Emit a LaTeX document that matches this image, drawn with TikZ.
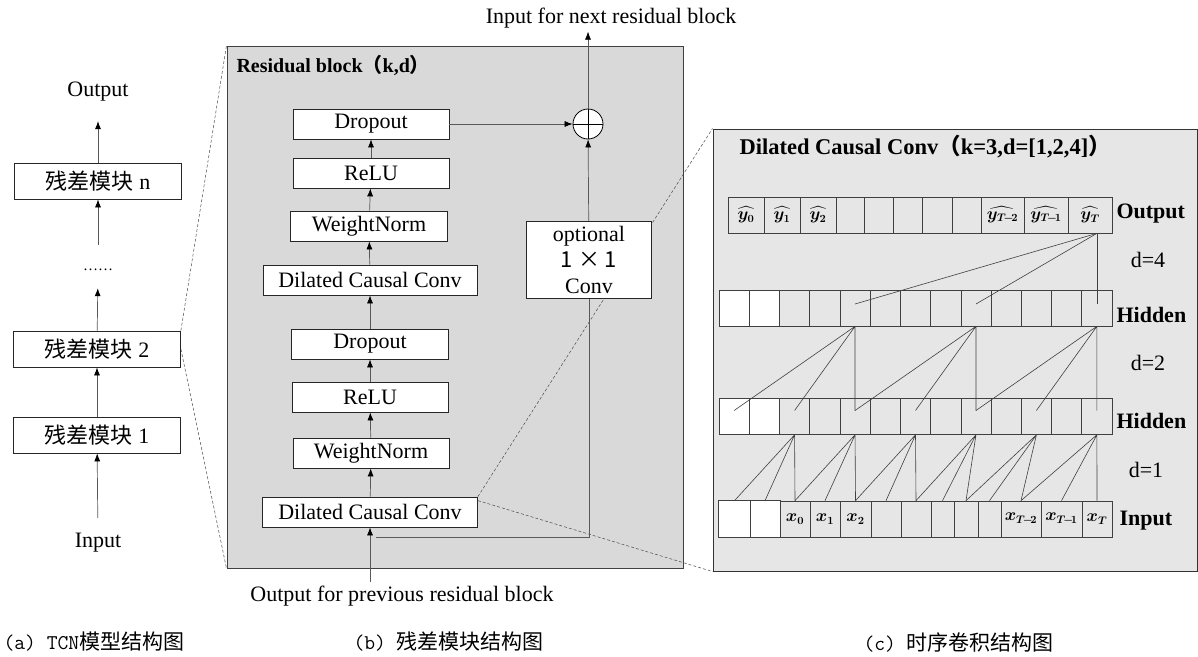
\documentclass[tikz,border=0pt]{standalone}
\usepackage{amsmath,amssymb,bm}
\usepackage{fontspec}
\setmainfont{Liberation Serif}
\newfontfamily\cjk{Noto Sans CJK SC}
\usepackage{xcolor}
\usetikzlibrary{arrows.meta,positioning,calc}

\definecolor{blockgray}{RGB}{217,217,217}
\definecolor{panelgray}{RGB}{231,230,230}
\newcommand{\txtsz}{\fontsize{22}{26}\selectfont}
\newcommand{\restitsz}{\fontsize{20}{23}\selectfont}
\newcommand{\pantitsz}{\fontsize{22.5}{26}\selectfont}
\newcommand{\cellsz}{\fontsize{16}{18}\selectfont\boldmath}
\newcommand{\capsz}{\fontsize{21}{24}\selectfont}
\newcommand{\tm}[1]{T\!-\!#1}

\begin{document}
\begin{tikzpicture}[
        x=1pt, y=-1pt,
        box/.style={rectangle, draw=black!85, fill=white, line width=0.8pt, inner sep=0pt, minimum height=30pt, font=\txtsz},
        stackbox/.style={box, minimum width=167pt, minimum height=36pt},
        plain/.style={font=\txtsz},
        arrow/.style={-{Latex[length=8pt,width=6pt,black]}, draw=black!65, line width=0.7pt},
        conn/.style={draw=black!65, line width=0.7pt},
        zoomline/.style={draw=black!70, line width=0.5pt, dash pattern=on 3pt off 2pt},
        cell/.style={rectangle, draw=black!75, line width=0.7pt, fill=panelgray, minimum height=36pt, inner sep=0pt, font=\cellsz},
        tap/.style={draw=black!75, line width=0.6pt},
        rowlabel/.style={anchor=west, font=\bfseries\txtsz},
        dlabel/.style={font=\txtsz}
    ]
    \useasboundingbox (0,0) rectangle (1198,656);

    % (a) TCN stack
    \node[plain] (out) at (98,92) {Output};
    \node[stackbox] (bn) at (98,181) {{\cjk 残差模块} n};
    \node[minimum height=36pt, font=\fontsize{15}{16}\selectfont] (dots) at (98,270) {……};
    \node[stackbox] (b2) at (97,349) {{\cjk 残差模块} 2};
    \node[stackbox] (b1) at (97,435) {{\cjk 残差模块} 1};
    \node[plain] (in) at (98,543) {Input};

    \draw[arrow, shorten <=12pt] (in) -- (b1);
    \draw[arrow] (b1) -- (b2);
    \draw[arrow] (b2) -- (dots);
    \draw[arrow, shorten <=7pt] (dots) -- (bn);
    \draw[arrow, shorten >=16pt] (bn) -- (out);

    % (c) dilated causal conv panel
    \node[draw=black!80, fill=panelgray, line width=1pt, minimum width=484pt, minimum height=442pt, inner sep=0pt] (panel) at (955,350) {};

    % (b) residual block
    \node[draw=black!75, fill=blockgray, line width=1pt, minimum width=456pt, minimum height=522pt, inner sep=0pt] (resblk) at (455,307) {};
    \node[anchor=west, font=\bfseries\restitsz] (restitle) at (233,65) {Residual block{\cjk （}k,d{\cjk ）}};

    \node[box, minimum width=215pt] (dcc1) at (370,512) {Dilated Causal Conv};

    % zoom lines
    \draw[zoomline] (b2.north east) -- (resblk.north west);
    \draw[zoomline] (b2.east) -- (resblk.south west);
    \draw[zoomline] (dcc1.north east) -- (panel.north west);
    \draw[zoomline] ([yshift=-4pt]dcc1.north east) -- (panel.south west);

    \node[box, minimum width=156pt] (wn1) at (371,453) {WeightNorm};
    \node[box, minimum width=156pt] (relu1) at (370,397) {ReLU};
    \node[box, minimum width=157pt] (drop1) at (370,344) {Dropout};
    \node[box, minimum width=214pt] (dcc2) at (370,280) {Dilated Causal Conv};
    \node[box, minimum width=157pt] (wn2) at (369,226) {WeightNorm};
    \node[box, minimum width=156pt] (relu2) at (371,173) {ReLU};
    \node[box, minimum width=156pt] (drop2) at (371,124) {Dropout};

    \foreach \a/\b in {dcc1/wn1, wn1/relu1, relu1/drop1, drop1/dcc2, dcc2/wn2, wn2/relu2, relu2/drop2}
        \draw[arrow] (\a) -- (\b);

    \node[circle, draw=black, fill=white, line width=0.8pt, minimum size=30pt, inner sep=0pt] (sum) at (588,124) {};
    \draw[line width=0.8pt] (sum.north) -- (sum.south) (sum.west) -- (sum.east);

    \node[box, minimum width=125pt, minimum height=77pt, align=center, font=\fontsize{22}{26}\selectfont] (opt) at (589,260) {optional\\{\cjk 1 × 1}\\Conv};

    \node[plain] (nextin) at (611,18) {Input for next residual block};
    \node[plain] (prevout) at (402,596) {Output for previous residual block};

    \draw[arrow] (drop2) -- (sum);
    \draw[arrow] (opt) -- (sum);
    \draw[arrow] (sum.north) -- (sum.north |- nextin.south);
    \draw[arrow] (prevout.north -| dcc1.south) -- (dcc1.south);
    \coordinate (branch) at ($(dcc1.south)+(6,10)$);
    \draw[conn] (branch) -| (opt.south);

    \node[anchor=west, font=\bfseries\pantitsz] (ptitle) at (736,147) {Dilated Causal Conv{\cjk （}k=3,d=[1,2,4]{\cjk ）}};

    % output row
    \foreach \l/\r/\t [count=\i] in {728/764/{$\widehat{y_0}$}, 764/800/{$\widehat{y_1}$}, 800/836/{$\widehat{y_2}$},
            836/864/{}, 864/893/{}, 893/922/{}, 922/952/{}, 952/981/{},
            981/1024/{$\widehat{y_{\tm2}}$}, 1024/1068/{$\widehat{y_{\tm1}}$}, 1068/1112/{$\widehat{y_T}$}}
        \node[cell, minimum width={(\r-\l)*1pt}] (o\i) at ({(\l+\r)/2},215) {\t};

    % hidden rows
    \foreach \i in {1,...,13} {
        \pgfmathsetmacro\cx{719+(\i-0.5)*30.23}
        \ifnum\i<3
            \node[cell, fill=white, minimum width=30.23pt] (h\i) at (\cx,308) {};
            \node[cell, fill=white, minimum width=30.23pt] (g\i) at (\cx,416.5) {};
        \else
            \node[cell, minimum width=30.23pt] (h\i) at (\cx,308) {};
            \node[cell, minimum width=30.23pt] (g\i) at (\cx,416.5) {};
        \fi
    }

    % input row
    \foreach \l/\r/\t [count=\i] in {719/750/{}, 750/780/{}, 780/810/{$x_0$}, 810/840/{$x_1$}, 840/871/{$x_2$},
            871/901/{}, 901/931/{}, 931/954/{}, 954/978/{}, 978/1001/{},
            1001/1041/{$x_{\tm2}$}, 1041/1082/{$x_{\tm1}$}, 1082/1112/{$x_T$}}
        \node[cell, minimum width={(\r-\l)*1pt}] (x\i) at ({(\l+\r)/2},519) {\t};
    \fill[white, draw=black!75, line width=0.7pt] (x1.north west) rectangle (x2.south east);
    \draw[black!75, line width=0.7pt] (x1.north east) -- (x1.south east);

    \node[rowlabel] (lout) at (1113,214) {Output};
    \node[rowlabel] (lh1) at (1113,315) {Hidden};
    \node[rowlabel] (lh2) at (1113,421) {Hidden};
    \node[rowlabel] (lin) at (1116,521) {Input};
    \node[dlabel] (d4) at (1148,260) {d=4};
    \node[dlabel] (d2) at (1148,363) {d=2};
    \node[dlabel] (d1) at (1146,470) {d=1};

    % d=4
    \foreach \j in {5,9,13}
        \draw[tap] (o11.south -| h13.center) -- ([yshift=4pt]h\j.center);
    % d=2
    \foreach \s in {5,9,13} {
        \pgfmathtruncatemacro\a{\s-4}
        \pgfmathtruncatemacro\b{\s-2}
        \draw[tap] (h\s.south) -- ([yshift=6pt]g\a.center) (h\s.south) -- ([yshift=6pt]g\b.center) (h\s.south) -- ([yshift=6pt]g\s.center);
    }
    % d=1
    \foreach \s in {3,5,...,13} {
        \pgfmathtruncatemacro\a{\s-2}
        \pgfmathtruncatemacro\b{\s-1}
        \draw[tap] (g\s.south) -- (x\a.north) (g\s.south) -- (x\b.north) (g\s.south) -- (x\s.north);
    }

    % captions
    \node[anchor=west, font=\capsz] (capa) at (0,642) {\ttfamily (a) TCN{\cjk 模型结构图}};
    \node[anchor=west, font=\capsz] (capb) at (350,642) {\ttfamily (b) {\cjk 残差模块结构图}};
    \node[anchor=west, font=\capsz] (capc) at (860,642) {\ttfamily (c) {\cjk 时序卷积结构图}};
\end{tikzpicture}
\end{document}
